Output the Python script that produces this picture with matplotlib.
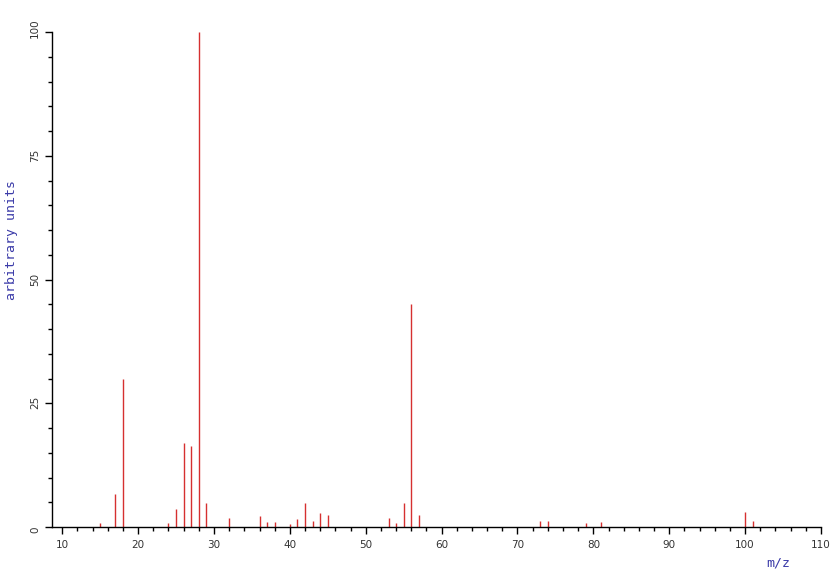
import matplotlib
matplotlib.use("Agg")
import matplotlib.pyplot as plt
from matplotlib.ticker import MultipleLocator
from matplotlib.transforms import ScaledTranslation, blended_transform_factory

mz = [15, 17, 18, 24, 25, 26, 27, 28, 29, 32, 36, 37, 38, 40, 41, 42, 43, 44, 45,
      53, 54, 55, 56, 57, 73, 74, 79, 81, 100, 101]
intensity = [0.9, 6.6, 30.0, 0.8, 3.7, 17.0, 16.4, 100.0, 4.8, 1.9, 2.2, 1.1, 1.1, 0.6, 1.6, 4.8, 1.3, 2.8, 2.4,
             1.9, 0.9, 4.8, 45.0, 2.4, 1.3, 1.3, 0.8, 1.1, 3.0, 1.3]
xticks = [10, 20, 30, 40, 50, 60, 70, 80, 90, 100, 110]
yticks = [0, 25, 50, 75, 100]

fig = plt.figure(figsize=(8.37, 5.71), dpi=100)
ax = fig.add_axes([52/837, 1-527/571, (821-52)/837, (527-32)/571])
ax.vlines(mz, 0, intensity, colors="#d63030", linewidth=1.0)

ax.set_xlim(8.65, 110)
ax.set_ylim(0, 100)
ax.set_xticks(xticks)
ax.set_yticks(yticks)
ax.xaxis.set_minor_locator(MultipleLocator(2))
ax.yaxis.set_minor_locator(MultipleLocator(5))
for s in ["top", "right"]:
    ax.spines[s].set_visible(False)
for s in ["left", "bottom"]:
    ax.spines[s].set_linewidth(1.0)
    ax.spines[s].set_color("black")
ax.tick_params(axis="both", which="major", length=5, width=1, color="black",
               labelsize=7.5, labelcolor="#333333")
ax.tick_params(axis="both", which="minor", length=3, width=1, color="black")
ax.tick_params(axis="x", which="major", pad=4)
ax.tick_params(axis="y", labelleft=False)

# y tick labels: rotated, text starting a little below each tick
trans = blended_transform_factory(fig.transFigure, ax.transData) + \
    ScaledTranslation(0, -6/100, fig.dpi_scale_trans)
for v in yticks:
    ax.text(35/837, v, str(v), transform=trans, rotation=90, ha="center", va="bottom",
            fontsize=7.5, color="#333333", clip_on=False)

fig.text(12/837, 1-240/571, "arbitrary units", rotation=90, color="#3a3aa8",
         family="DejaVu Sans Mono", fontsize=9.5, ha="center", va="center")
fig.text(778/837, 1-563/571, "m/z", color="#3a3aa8",
         family="DejaVu Sans Mono", fontsize=9.5, ha="center", va="center")

fig.savefig("out.png", dpi=100)
